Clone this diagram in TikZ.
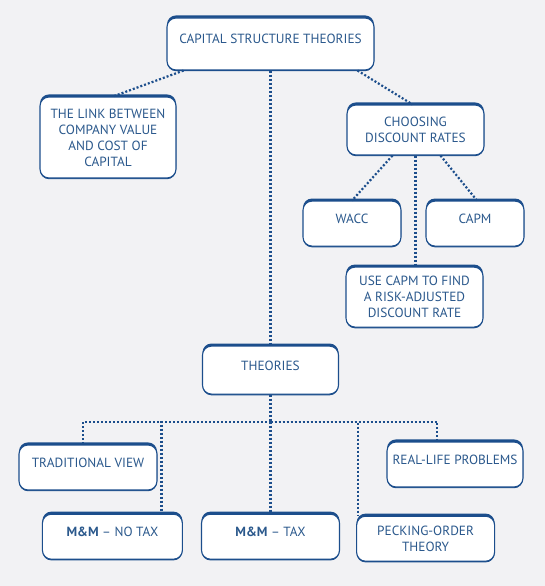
\documentclass[tikz,border=0pt]{standalone}
\usepackage{fontspec}
\setmainfont{PT Sans}
\usepackage{tikz}
\usetikzlibrary{positioning, calc}
\definecolor{boxblue}{RGB}{28, 78, 140}
\definecolor{txtblue}{RGB}{42, 88, 140}
\definecolor{bggray}{RGB}{242, 242, 244}
\tikzset{
    box/.style={rectangle, rounded corners=9pt, draw=boxblue, fill=white,
                line width=1.1pt, text=txtblue, font=\fontsize{13.3}{16}\selectfont,
                align=center, inner sep=0pt, minimum width=137pt,
                minimum height=45pt,
                preaction={fill=boxblue, transform canvas={yshift=-1.2pt}},
                preaction={fill=boxblue, transform canvas={yshift=2.6pt}}},
    oneline/.style={text height=1.6ex, text depth=1.6ex},
    link/.style={draw=boxblue, line width=2.2pt, dash pattern=on 2pt off 2pt},
}
\begin{document}
\begin{tikzpicture}[x=1pt, y=-1pt]
    \useasboundingbox[fill=bggray] (0,0) rectangle (545,586);
    % top level
    \node[box, oneline, minimum width=207pt, minimum height=52pt] (cap) at (270.5,44) {CAPITAL STRUCTURE THEORIES};
    \node[box, minimum width=136pt, minimum height=81pt] (link) at (108,137.5) {THE LINK BETWEEN\\COMPANY VALUE\\AND COST OF\\CAPITAL};
    \node[box, minimum height=50pt] (choose) at (415.5,130) {CHOOSING\\DISCOUNT RATES};
    % discount rates
    \node[box, oneline, minimum width=98pt, below=45pt of choose, xshift=-63.5pt] (wacc) {WACC};
    \node[box, oneline, minimum width=98pt, below=45pt of choose, xshift=59.5pt] (capm) {CAPM};
    \node[box, minimum height=60pt, below=111pt of choose, xshift=-1pt] (usecapm) {USE CAPM TO FIND\\A RISK-ADJUSTED\\DISCOUNT RATE};
    % theories
    \node[box, oneline, minimum width=136pt, minimum height=48pt, below=275pt of cap] (theo) {THEORIES};
    \node[box, oneline, minimum width=138pt, below=119pt of theo] (mmtax) {\textbf{M\&M} -- TAX};
    \node[box, oneline, minimum width=140pt, left=18pt of mmtax] (mmnotax) {\textbf{M\&M} -- NO TAX};
    \node[box, minimum width=138pt, right=16pt of mmtax, yshift=-2pt] (peck) {PECKING-ORDER\\THEORY};
    \node[box, oneline, minimum width=138pt] (trad) at (88,467.5) {TRADITIONAL VIEW};
    \node[box, oneline, minimum width=136pt] (real) at (455,464.5) {REAL-LIFE PROBLEMS};

    \draw[link] ([xshift=-87pt]cap.south) -- ([xshift=5pt]link.north);
    \draw[link] ([xshift=87pt]cap.south) -- ([xshift=-3pt]choose.north);
    \draw[link] (cap.south) -- (theo.north);
    \draw[link] ([xshift=-23pt]choose.south) -- (wacc.north);
    \draw[link] ([xshift=25pt]choose.south) -- ([xshift=2pt]capm.north);
    \draw[link] (choose.south) -- (choose.south |- usecapm.north);
    \draw[link] (theo.south) -- ++(0,27) coordinate (hub);
    \draw[link] (hub) -| ([xshift=-5pt]trad.north);
    \draw[link] (hub) -| ([xshift=49pt]mmnotax.north);
    \draw[link] (hub) -- (mmtax.north);
    \draw[link] (hub) -| ([xshift=-68pt]peck.north);
    \draw[link] (hub) -| ([xshift=-18pt]real.north);
\end{tikzpicture}
\end{document}
